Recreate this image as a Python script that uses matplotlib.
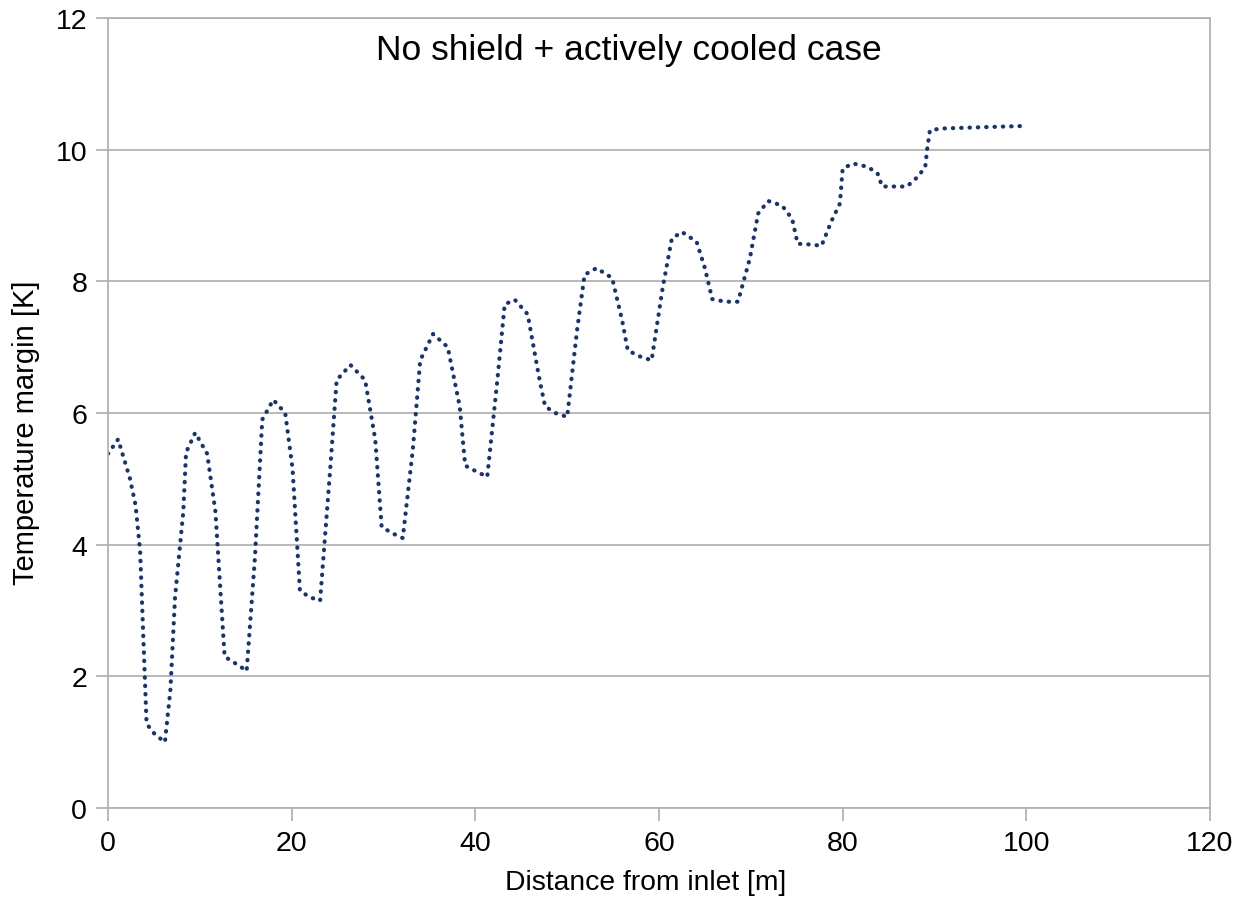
import matplotlib
matplotlib.use("Agg")
import matplotlib.pyplot as plt

plt.rcParams['font.family'] = ['Liberation Sans', 'DejaVu Sans']

# distance from inlet [m] and temperature margin [K]
distance = [0.0, 1.1, 2.4, 3.0, 3.5, 4.2, 5.1, 6.2, 6.8, 7.3, 8.2, 8.5, 9.5, 10.8,
            11.7, 12.7, 14.4, 15.1, 16.0, 16.8, 18.0, 19.3, 20.1, 20.9, 22.0, 23.1,
            24.2, 24.9, 26.4, 28.0, 29.1, 29.8, 31.0, 32.1, 33.2, 34.0, 35.4, 37.0,
            38.3, 38.9, 40.0, 41.3, 42.4, 43.2, 44.3, 45.7, 47.0, 47.6, 48.7, 50.0,
            51.1, 51.9, 53.2, 54.9, 56.0, 56.6, 57.9, 59.2, 60.4, 61.4, 62.5, 64.1,
            65.0, 65.8, 67.2, 68.6, 69.9, 70.8, 71.9, 73.4, 74.5, 75.1, 76.4, 77.7,
            78.8, 79.7, 80.0, 81.1, 82.7, 83.8, 84.3, 85.5, 87.0, 88.2, 89.0, 89.2,
            89.5, 90.6, 95.0, 99.9]
margin = [5.38, 5.6, 5.0, 4.6, 3.9, 1.28, 1.12, 1.0, 1.8, 3.2, 4.5, 5.4, 5.7, 5.38,
          4.5, 2.3, 2.15, 2.08, 3.8, 5.9, 6.2, 6.0, 5.15, 3.3, 3.2, 3.15,
          5.15, 6.5, 6.73, 6.5, 5.6, 4.27, 4.17, 4.1, 5.45, 6.8, 7.2, 7.0,
          6.1, 5.2, 5.12, 5.03, 6.5, 7.65, 7.72, 7.5, 6.5, 6.1, 6.0, 5.94,
          7.28, 8.1, 8.2, 8.05, 7.4, 6.95, 6.86, 6.8, 7.9, 8.65, 8.75, 8.6,
          8.2, 7.73, 7.69, 7.69, 8.35, 9.03, 9.22, 9.15, 8.95, 8.57, 8.56, 8.54,
          8.92, 9.18, 9.71, 9.79, 9.74, 9.64, 9.44, 9.44, 9.44, 9.59, 9.74, 10.0,
          10.29, 10.32, 10.34, 10.36]

x_ticks = [0, 20, 40, 60, 80, 100, 120]
y_ticks = [0, 2, 4, 6, 8, 10, 12]

fig = plt.figure(figsize=(12.47, 9.03), dpi=100)
ax = fig.add_axes([0.0866, 0.1041, 0.8837, 0.8749])

ax.plot(distance, margin, color='#1a3468', lw=3.0,
        linestyle=(0, (0.1, 1.9)), dash_capstyle='round')

ax.set_xlim(0, 120)
ax.set_ylim(0, 12)
ax.set_xticks(x_ticks)
ax.set_yticks(y_ticks)
ax.yaxis.grid(True, color='#b3b3b3', lw=1.3)
ax.set_axisbelow(True)
for s in ax.spines.values():
    s.set_color('#b3b3b3')
    s.set_linewidth(1.3)
ax.tick_params(axis='both', direction='out', length=9, width=1.3,
               color='#b3b3b3', labelsize=20.5, labelcolor='black')
ax.tick_params(axis='x', pad=7)
ax.tick_params(axis='y', pad=6)

ax.set_xlabel('Distance from inlet [m]', fontsize=20.3)
ax.set_ylabel('Temperature margin [K]', fontsize=21)
ax.xaxis.set_label_coords(0.488, -0.077)
ax.yaxis.set_label_coords(-0.062, 0.476)

ax.text(0.473, 0.96, 'No shield + actively cooled case', transform=ax.transAxes,
        ha='center', va='center', fontsize=25.5)

fig.savefig('out.png', dpi=100)
